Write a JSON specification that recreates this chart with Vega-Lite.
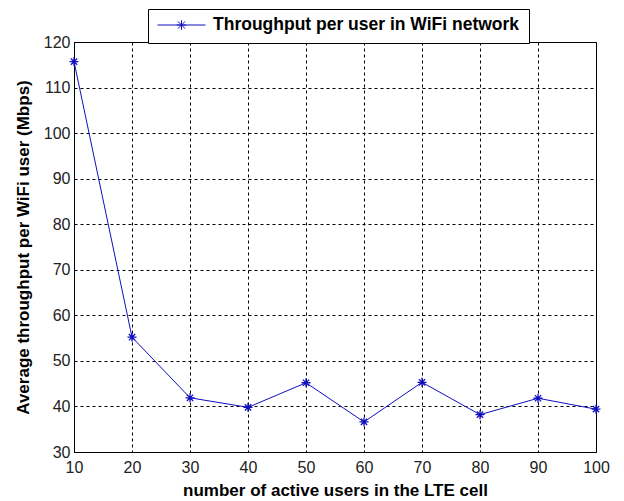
{
  "$schema": "https://vega.github.io/schema/vega-lite/v6.json",
  "autosize": {"type": "none"},
  "padding": {"left": 74, "top": 42, "right": 28, "bottom": 49},
  "width": 522,
  "height": 410,
  "background": "white",
  "config": {
    "font": "Liberation Sans",
    "view": {"stroke": "black", "strokeWidth": 1},
    "axis": {
      "gridColor": "black",
      "gridDash": [3, 3],
      "gridOpacity": 1,
      "gridWidth": 1,
      "domainColor": "black",
      "ticks": false,
      "labelFont": "Liberation Sans",
      "labelFontSize": 16,
      "labelColor": "#222",
      "titleFont": "Liberation Sans",
      "titleFontSize": 17,
      "titleFontWeight": "bold",
      "titleColor": "black"
    }
  },
  "data": {
    "values": [
      {"users": 10, "throughput": 115.7, "series": "Throughput per user in WiFi network"},
      {"users": 20, "throughput": 55.2, "series": "Throughput per user in WiFi network"},
      {"users": 30, "throughput": 41.9, "series": "Throughput per user in WiFi network"},
      {"users": 40, "throughput": 39.8, "series": "Throughput per user in WiFi network"},
      {"users": 50, "throughput": 45.2, "series": "Throughput per user in WiFi network"},
      {"users": 60, "throughput": 36.6, "series": "Throughput per user in WiFi network"},
      {"users": 70, "throughput": 45.3, "series": "Throughput per user in WiFi network"},
      {"users": 80, "throughput": 38.2, "series": "Throughput per user in WiFi network"},
      {"users": 90, "throughput": 41.8, "series": "Throughput per user in WiFi network"},
      {"users": 100, "throughput": 39.4, "series": "Throughput per user in WiFi network"}
    ]
  },
  "encoding": {
    "x": {
      "field": "users", "type": "quantitative",
      "scale": {"domain": [10, 100], "nice": false, "zero": false},
      "axis": {"values": [10, 20, 30, 40, 50, 60, 70, 80, 90, 100], "title": "number of active users in the LTE cell", "labelPadding": 7, "titlePadding": 7, "labelFlush": false}
    },
    "y": {
      "field": "throughput", "type": "quantitative",
      "scale": {"domain": [30, 120], "nice": false, "zero": false},
      "axis": {"values": [30, 40, 50, 60, 70, 80, 90, 100, 110, 120], "title": "Average throughput per WiFi user (Mbps)", "labelPadding": 4, "titlePadding": 11, "labelFlush": false}
    },
    "color": {
      "field": "series", "type": "nominal",
      "scale": {"range": ["#1010c0"]},
      "legend": {
        "title": null,
        "orient": "none",
        "legendX": 74,
        "legendY": -33,
        "symbolType": "M-1,0L1,0M0,-0.2L0,0.2M-0.2,0L0.2,0M-0.15,-0.15L0.15,0.15M-0.15,0.15L0.15,-0.15",
        "symbolSize": 2304,
        "symbolStrokeWidth": 1,
        "symbolFillColor": "transparent",
        "clipHeight": 14,
        "labelFont": "Liberation Sans",
        "labelFontSize": 17.5,
        "labelFontWeight": "bold",
        "labelColor": "black",
        "labelOffset": 7,
        "strokeColor": "black",
        "fillColor": "white",
        "padding": 9,
        "labelLimit": 500
      }
    }
  },
  "layer": [
    {"mark": {"type": "line", "strokeWidth": 1}},
    {"mark": {"type": "point", "shape": "M-1,0L1,0M0,-1L0,1M-0.7,-0.7L0.7,0.7M-0.7,0.7L0.7,-0.7", "size": 81, "filled": false, "strokeWidth": 1.3, "opacity": 1}}
  ]
}
